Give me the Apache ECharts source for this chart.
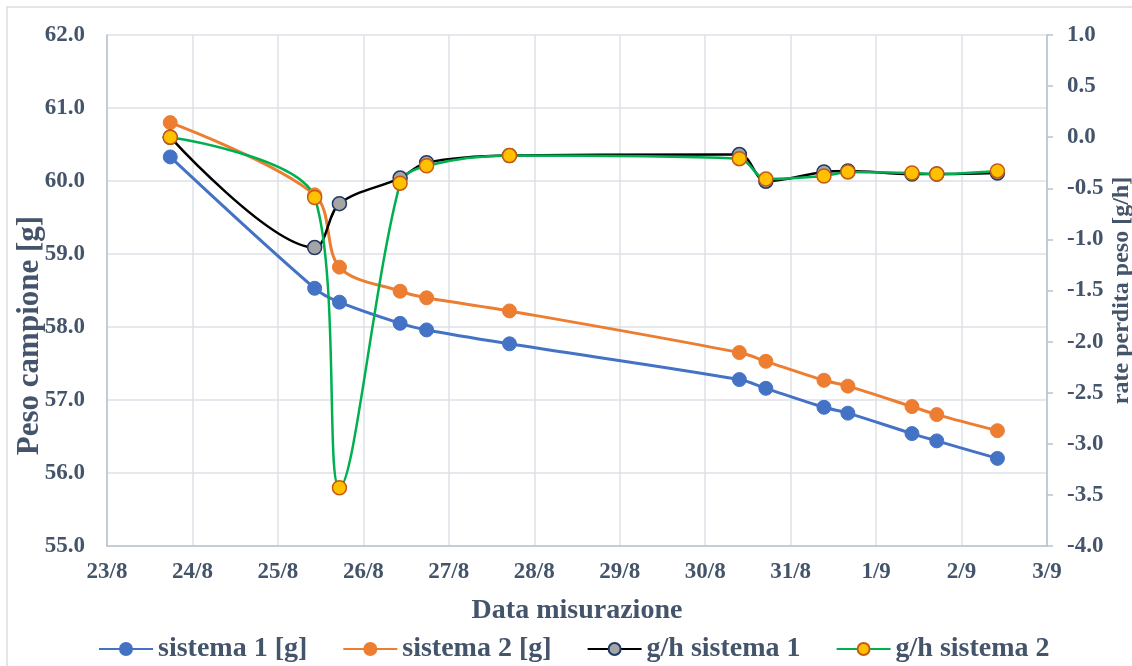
<!DOCTYPE html>
<html>
<head>
<meta charset="utf-8">
<script src="https://cdn.jsdelivr.net/npm/echarts@6/dist/echarts.min.js"></script>
<style>
  html, body { margin: 0; padding: 0; background: #fff; }
  #chart { width: 1132px; height: 666px; }
</style>
</head>
<body>
<div id="chart"></div>
<script>
// giorno di misura (giorno di agosto, frazione = ora del giorno; >31 = settembre)
const giorni = [23.74, 25.43, 25.72, 26.43, 26.74, 27.71, 30.40, 30.71, 31.39, 31.67, 32.42, 32.71, 33.42];
const sistema1 = [60.33, 58.53, 58.34, 58.05, 57.96, 57.77, 57.28, 57.16, 56.90, 56.82, 56.54, 56.44, 56.20];
const sistema2 = [60.80, 59.81, 58.82, 58.49, 58.40, 58.22, 57.65, 57.53, 57.27, 57.19, 56.91, 56.80, 56.58];
const gh1 = [0.00, -1.08, -0.65, -0.40, -0.25, -0.18, -0.17, -0.43, -0.34, -0.33, -0.36, -0.36, -0.35];
const gh2 = [0.00, -0.59, -3.43, -0.45, -0.28, -0.18, -0.21, -0.41, -0.38, -0.34, -0.35, -0.36, -0.33];

const serieNomi = ["sistema 1 [g]", "sistema 2 [g]", "g/h sistema 1", "g/h sistema 2"];

const font = "'Liberation Serif', 'Times New Roman', serif";
const textColor = "#44546A";
const gridColor = "#DCE0E7";
const axisColor = "#B8C2D0";

function coppie(ys) {
  return giorni.map((g, i) => [g, ys[i]]);
}

const chart = echarts.init(document.getElementById("chart"));

let option = {
  animation: false,
  graphic: [
    {
      type: "rect",
      shape: { x: 7, y: 7, width: 1200, height: 700 },
      style: { fill: "none", stroke: "#D9DDE3", lineWidth: 1.5 },
      silent: true,
    },
  ],
  grid: {
    left: 107,
    right: 85,
    top: 35,
    bottom: 120,
    outerBoundsMode: "none",
  },
  legend: {
    data: serieNomi,
    top: 630,
    left: 93,
    itemWidth: 54,
    itemHeight: 15,
    itemGap: 35,
    textStyle: {
      fontFamily: font,
      fontWeight: "bold",
      fontSize: 28,
      color: textColor,
    },
  },
  xAxis: {
    type: "value",
    min: 23,
    max: 34,
    interval: 1,
    name: "Data misurazione",
    nameLocation: "middle",
    nameGap: 51,
    nameMoveOverlap: false,
    nameTextStyle: {
      fontFamily: font,
      fontWeight: "bold",
      fontSize: 28,
      color: textColor,
    },
    axisLine: { show: true, onZero: false, lineStyle: { color: axisColor, width: 1.5 } },
    axisTick: { show: false },
    splitLine: { show: true, lineStyle: { color: gridColor, width: 1.5 } },
    axisLabel: {
      margin: 15,
      fontFamily: font,
      fontWeight: "bold",
      fontSize: 23,
      color: textColor,
      formatter: (v) => (v <= 31 ? v + "/8" : v - 31 + "/9"),
    },
  },
  yAxis: [
    {
      type: "value",
      min: 55,
      max: 62,
      interval: 1,
      name: "Peso campione [g]",
      nameLocation: "middle",
      nameRotate: 90,
      nameGap: 62,
      nameMoveOverlap: false,
      nameTextStyle: {
        fontFamily: font,
        fontWeight: "bold",
        fontSize: 31,
        color: textColor,
        padding: [0, 90, 0, 0],
      },
      axisLine: { show: true, lineStyle: { color: axisColor, width: 1.5 } },
      axisTick: { show: false },
      splitLine: { show: true, lineStyle: { color: gridColor, width: 1.5 } },
      axisLabel: {
        margin: 22,
        fontFamily: font,
        fontWeight: "bold",
        fontSize: 23,
        color: textColor,
        formatter: (v) => v.toFixed(1),
      },
    },
    {
      type: "value",
      min: -4,
      max: 1,
      interval: 0.5,
      position: "right",
      name: "rate perdita peso [g/h]",
      nameLocation: "middle",
      nameRotate: 90,
      nameGap: 63,
      nameMoveOverlap: false,
      nameTextStyle: {
        fontFamily: font,
        fontWeight: "bold",
        fontSize: 24,
        color: textColor,
      },
      axisLine: { show: true, onZero: false, lineStyle: { color: axisColor, width: 1.5 } },
      axisTick: { show: true, length: 6, lineStyle: { color: axisColor, width: 1.5 } },
      splitLine: { show: false },
      axisLabel: {
        margin: 20,
        fontFamily: font,
        fontWeight: "bold",
        fontSize: 23,
        color: textColor,
        formatter: (v) => v.toFixed(1),
      },
    },
  ],
  series: [
    {
      name: serieNomi[0],
      type: "line",
      yAxisIndex: 0,
      data: coppie(sistema1),
      smooth: 0.33,
      symbol: "circle",
      symbolSize: 14,
      lineStyle: { color: "#4472C4", width: 3 },
      itemStyle: { color: "#4472C4", borderColor: "#4472C4", borderWidth: 1 },
    },
    {
      name: serieNomi[1],
      type: "line",
      yAxisIndex: 0,
      data: coppie(sistema2),
      smooth: 0.33,
      symbol: "circle",
      symbolSize: 14,
      lineStyle: { color: "#ED7D31", width: 3 },
      itemStyle: { color: "#ED7D31", borderColor: "#ED7D31", borderWidth: 1 },
    },
    {
      name: serieNomi[2],
      type: "line",
      yAxisIndex: 1,
      data: coppie(gh1),
      smooth: 0.33,
      symbol: "circle",
      symbolSize: 14,
      lineStyle: { color: "#000000", width: 2.5 },
      itemStyle: { color: "#A5A5A5", borderColor: "#1F3864", borderWidth: 1.5 },
    },
    {
      name: serieNomi[3],
      type: "line",
      yAxisIndex: 1,
      data: coppie(gh2),
      smooth: 0.33,
      symbol: "circle",
      symbolSize: 14,
      lineStyle: { color: "#00B050", width: 2.5 },
      itemStyle: { color: "#FFC000", borderColor: "#C55A11", borderWidth: 1.5 },
    },
  ],
};

chart.setOption(option);
</script>
</body>
</html>
